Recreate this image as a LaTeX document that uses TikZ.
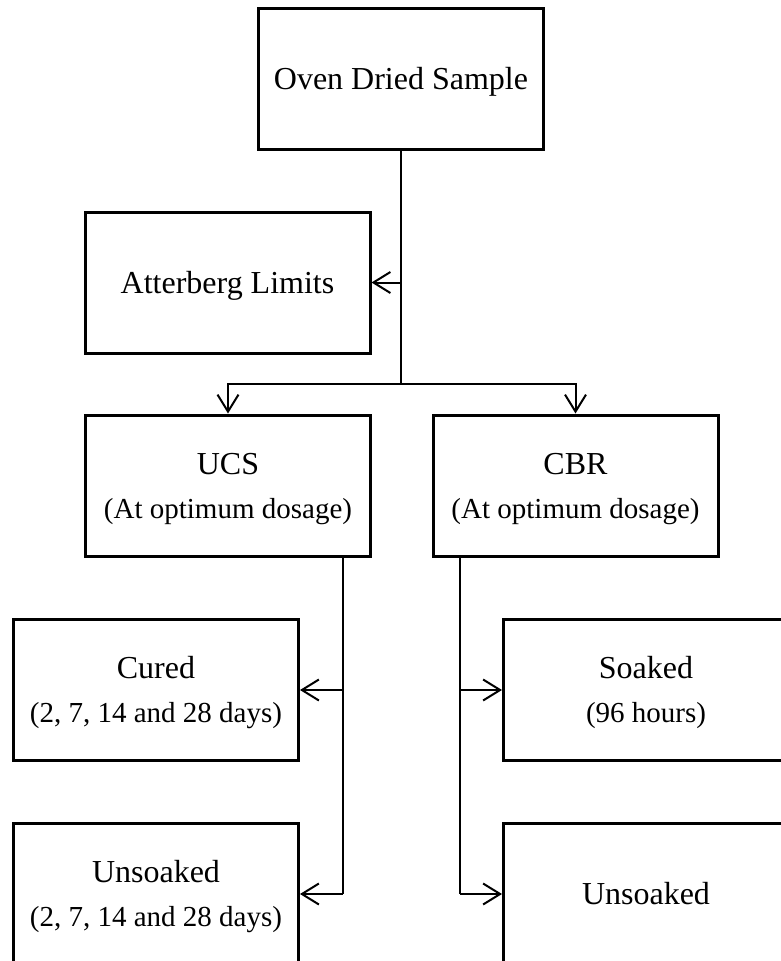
\documentclass[tikz,border=0pt]{standalone}
\usepackage{fontspec}
\setmainfont{Liberation Serif}
\usetikzlibrary{arrows.meta}
% struts that fix the top and bottom of each label
\newcommand\boxtop{\rule{0pt}{28pt}}
\newcommand\boxbot{\rule[-7pt]{0pt}{7pt}}
\newcommand\subline[1]{{\fontsize{29}{44}\selectfont #1}}
\begin{document}
\begin{tikzpicture}[x=1pt,y=-1pt,
  box/.style={draw=black, line width=3pt, fill=white, minimum width=285pt,
    minimum height=141pt, inner sep=0pt, align=center,
    font=\fontsize{32}{44}\selectfont},
  link/.style={draw=black, line width=2pt},
  arr/.style={link, -{Straight Barb[length=17pt,width=21pt,line width=2pt]}}]
  \useasboundingbox (0,0) rectangle (781,961);
  \clip (0,0) rectangle (781,961);
  \fill[white] (0,0) rectangle (781,961);

  % boxes
  \node[box] (oven)   at (401,78.5)  {\boxtop\boxbot Oven Dried Sample};
  \node[box] (atter)  at (227.5,282.5) {\boxtop\boxbot Atterberg Limits};
  \node[box] (ucs)    at (228,485.5) {\boxtop UCS\\\subline{(At optimum dosage)}\boxbot};
  \node[box] (cbr)    at (575.5,485.5) {\boxtop CBR\\\subline{(At optimum dosage)}\boxbot};
  \node[box] (cured)  at (156,690)   {\boxtop Cured\\\subline{(2, 7, 14 and 28 days)}\boxbot};
  \node[box] (soaked) at (646,690)   {\boxtop Soaked\\\subline{(96 hours)}\boxbot};
  \node[box] (unsl)   at (156,894)   {\boxtop Unsoaked\\\subline{(2, 7, 14 and 28 days)}\boxbot};
  \node[box] (unsr)   at (646,894)   {\boxtop\boxbot Unsoaked};

  % junctions and drop lines
  \coordinate (j1) at (401,384);
  \coordinate (ud) at (342.5,0);
  \coordinate (cd) at (460,0);

  % trunk from the top box
  \draw[link] (oven.south) -- (j1);
  \draw[arr] (oven.south |- atter.east) -- (atter.east);
  \draw[arr] (j1) -| (ucs.north);
  \draw[arr] (j1) -| (cbr.north);

  % UCS branch
  \draw[link] (ud |- ucs.south) -- (ud |- unsl.east);
  \draw[arr] (ud |- cured.east) -- (cured.east);
  \draw[arr] (ud |- unsl.east) -- (unsl.east);

  % CBR branch
  \draw[link] (cd |- cbr.south) -- (cd |- unsr.west);
  \draw[arr] (cd |- soaked.west) -- (soaked.west);
  \draw[arr] (cd |- unsr.west) -- (unsr.west);
\end{tikzpicture}
\end{document}
